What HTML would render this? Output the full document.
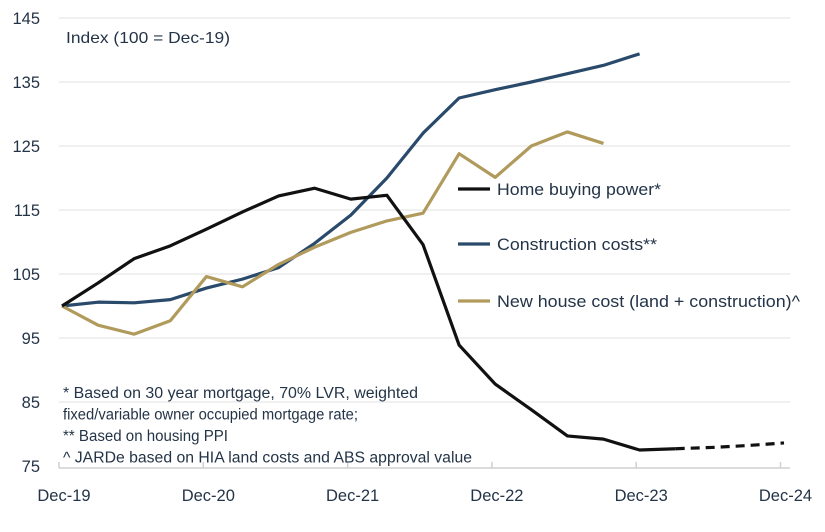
<!DOCTYPE html>
<html><head><meta charset="utf-8"><style>
body{margin:0;background:#fff}
svg text{font-family:"Liberation Sans",sans-serif;fill:#243447}
</style></head><body>
<svg id="c" width="825" height="527"></svg>
<script>
const yTicks=[75,85,95,105,115,125,135,145];
const xLabels=["Dec-19","Dec-20","Dec-21","Dec-22","Dec-23","Dec-24"];
const homePower=[100,103.6,107.4,109.4,112,114.7,117.2,118.4,116.7,117.3,109.6,93.9,87.8,83.8,79.7,79.2,77.5,77.7];
const homeForecast=[77.7,77.9,78.2,78.6];
const construction=[100,100.6,100.5,101,102.8,104.2,106,109.8,114.2,120,127,132.5,133.8,135,136.3,137.6,139.4];
const newHouse=[100,97,95.6,97.7,104.6,103,106.5,109.2,111.5,113.3,114.5,123.8,120.1,125,127.2,125.4];
const NS="http://www.w3.org/2000/svg";
const svg=document.getElementById('c');
const X=q=>62+q*36.1;
const Y=v=>18+(145-v)*6.4;
function el(t,a,p){const e=document.createElementNS(NS,t);for(const k in a)e.setAttribute(k,a[k]);(p||svg).appendChild(e);return e;}
yTicks.forEach(v=>{
if(v>75){const g=el('line',{x1:59,x2:790,y1:Y(v),y2:Y(v),stroke:'#e2e2e2','stroke-width':1});

}
const t=el('text',{x:40,y:Y(v)+6,'font-size':16.5,'text-anchor':'end'});t.textContent=v;

});
const ax=el('line',{x1:59,x2:790,y1:468,y2:468,stroke:'#d0d0d0','stroke-width':1.5});


xLabels.forEach((l,i)=>{const x=59+i*144.3;
const tk=el('line',{x1:x,x2:x,y1:462,y2:468,stroke:'#d0d0d0','stroke-width':1.5});


const t=el('text',{x:x+5,y:501,'font-size':16.5,'text-anchor':'middle'});t.textContent=l;

});
function line(arr,off,color,name,dash){const p=el('polyline',{points:arr.map((v,i)=>X(i+off)+','+Y(v)).join(' '),fill:'none',stroke:color,'stroke-width':3.2,'stroke-linejoin':'round'});
if(dash)p.setAttribute('stroke-dasharray','9 6');

}
line(construction,0,'#2a4a6b','construction-costs-line');
line(newHouse,0,'#b09a5c','new-house-cost-line');
line(homePower,0,'#111','home-buying-power-line');
line(homeForecast,17,'#111','home-buying-power-forecast',true);
const leg=[["Home buying power*",'#111',189,164],["Construction costs**",'#2a4a6b',244,160],["New house cost (land + construction)^",'#b09a5c',301,303]];
leg.forEach(l=>{const s=el('line',{x1:458,x2:490,y1:l[2],y2:l[2],stroke:l[1],'stroke-width':3.2});


const t=el('text',{x:497,y:l[2]+6,'font-size':16.5,textLength:l[3],lengthAdjust:'spacingAndGlyphs'});t.textContent=l[0];

});
const ti=el('text',{x:66,y:43,'font-size':16,textLength:164,lengthAdjust:'spacingAndGlyphs'});ti.textContent="Index (100 = Dec-19)";


const notes=[["* Based on 30 year mortgage, 70% LVR,  weighted",355],["fixed/variable owner occupied mortgage rate;",295],["** Based on housing PPI",165],["^ JARDe based on HIA land costs and ABS approval value",409]];
notes.forEach((n,i)=>{const t=el('text',{x:63,y:398+i*21.5,'font-size':15.5,textLength:n[1],lengthAdjust:'spacingAndGlyphs'});t.textContent=n[0];

});
</script>
</body></html>
